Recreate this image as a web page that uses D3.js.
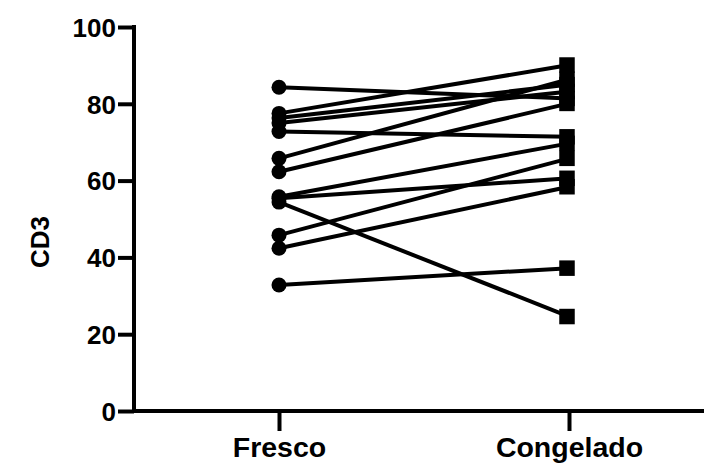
<!DOCTYPE html>
<html>
<head>
<meta charset="utf-8">
<script src="https://cdn.jsdelivr.net/npm/d3@7"></script>
<style>
  body { margin: 0; background: #fff; }
  svg text { font-family: "Liberation Sans", Arial, sans-serif; font-weight: bold; fill: #000; }
</style>
</head>
<body>
<script>
// paired values
var groups = ["Fresco", "Congelado"];
var fresco    = [84.3, 77.5, 76.3, 75.0, 72.8, 65.8, 62.3, 55.8, 55.4, 54.4, 45.8, 42.4, 32.8];
var congelado = [81.4, 90.1, 85.0, 83.2, 71.4, 86.4, 80.1, 69.7, 60.6, 24.6, 65.8, 58.4, 37.2];
var yTicks = [0, 20, 40, 60, 80, 100];

var svgWidth = 704, svgHeight = 464;

var svg = d3.select("body")
  .append("svg")
    .attr("width", svgWidth)
    .attr("height", svgHeight);

var xScale = d3.scalePoint().domain(groups).range([279, 569]),
    yScale = d3.scaleLinear().domain([0, 100]).range([411, 27]);

var axisX0 = 134;

// y axis
var yAxis = d3.axisLeft(yScale).tickValues(yTicks).tickSize(16).tickPadding(2);
var gy = svg.append("g")
    .attr("transform", "translate(" + axisX0 + ",0)")
    .call(yAxis);
gy.select(".domain").remove();
gy.selectAll(".tick line").attr("stroke", "#000").attr("stroke-width", 4);
gy.selectAll(".tick text").style("font-size", "26px").attr("dy", "0.36em");
gy.append("line")
    .attr("x1", 0).attr("x2", 0)
    .attr("y1", yScale(100) - 2).attr("y2", yScale(0) + 2)
    .attr("stroke", "#000").attr("stroke-width", 4);

// x axis
var xAxis = d3.axisBottom(xScale).tickSize(20).tickPadding(6);
var gx = svg.append("g")
    .attr("transform", "translate(0," + yScale(0) + ")")
    .call(xAxis);
gx.select(".domain").remove();
gx.selectAll(".tick line").attr("stroke", "#000").attr("stroke-width", 4);
gx.selectAll(".tick text").style("font-size", "28.5px");
gx.append("line")
    .attr("x1", axisX0 - 2).attr("x2", svgWidth)
    .attr("y1", 0).attr("y2", 0)
    .attr("stroke", "#000").attr("stroke-width", 4);

// y label
svg.append("text")
    .attr("transform", "translate(49," + yScale(44) + ") rotate(-90)")
    .attr("text-anchor", "middle")
    .style("font-size", "26px")
    .text("CD3");

// paired lines
var pairs = fresco.map(function(v, i) { return {a: v, b: congelado[i]}; });

svg.append("g").selectAll("line")
  .data(pairs).enter()
  .append("line")
    .attr("x1", xScale("Fresco"))
    .attr("y1", function(d) { return yScale(d.a); })
    .attr("x2", xScale("Congelado"))
    .attr("y2", function(d) { return yScale(d.b); })
    .attr("stroke", "#000")
    .attr("stroke-width", 4);

// circles (Fresco)
svg.append("g").selectAll("circle")
  .data(fresco).enter()
  .append("circle")
    .attr("cx", xScale("Fresco"))
    .attr("cy", function(d) { return yScale(d); })
    .attr("r", 7.5)
    .attr("fill", "#000");

// squares (Congelado)
var sq = 15.5;
svg.append("g").selectAll("rect")
  .data(congelado).enter()
  .append("rect")
    .attr("x", xScale("Congelado") - 2 - sq / 2)
    .attr("y", function(d) { return yScale(d) - sq / 2; })
    .attr("width", sq)
    .attr("height", sq)
    .attr("fill", "#000");
</script>
</body>
</html>
